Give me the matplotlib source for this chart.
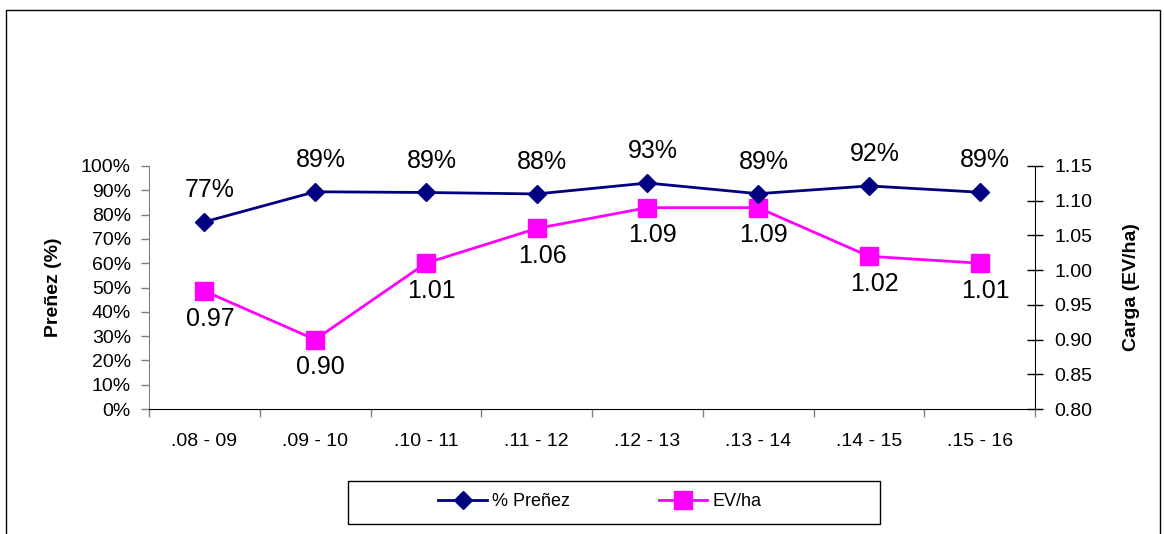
import matplotlib.pyplot as plt
from matplotlib.patches import Rectangle
from matplotlib.lines import Line2D

plt.rcParams['font.family'] = ['Liberation Sans', 'DejaVu Sans']

seasons = ['.08 - 09', '.09 - 10', '.10 - 11', '.11 - 12', '.12 - 13', '.13 - 14', '.14 - 15', '.15 - 16']
prenez = [0.77, 0.894, 0.891, 0.885, 0.93, 0.886, 0.918, 0.892]
prenez_lbl = ['77%', '89%', '89%', '88%', '93%', '89%', '92%', '89%']
ev_ha = [0.97, 0.90, 1.01, 1.06, 1.09, 1.09, 1.02, 1.01]
ev_lbl = ['0.97', '0.90', '1.01', '1.06', '1.09', '1.09', '1.02', '1.01']

navy = '#000080'
magenta = '#FF00FF'
W, H = 1164, 534

fig = plt.figure(figsize=(W / 100, H / 100), dpi=100)
# outer chart frame
fig.patches.append(Rectangle((6 / W, -0.05), 1154 / W, (H - 10) / H + 0.05,
                             transform=fig.transFigure, fill=False,
                             edgecolor='black', lw=1.0))

ax = fig.add_axes([149 / W, (H - 409) / H, (1035 - 149) / W, (409 - 166) / H])
ax2 = ax.twinx()
ax.set_zorder(ax2.get_zorder() + 1)
ax.patch.set_visible(False)

x = [i + 0.5 for i in range(len(seasons))]

ax.plot(x, prenez, color=navy, lw=2, marker='D', ms=9, zorder=3)
ax2.plot(x, ev_ha, color=magenta, lw=2, marker='s', ms=13, zorder=3)

for xi, v, t in zip(x, prenez, prenez_lbl):
    ax.annotate(t, (xi, v), xytext=(4, 23), textcoords='offset points',
                ha='center', va='center', fontsize=18)
for xi, v, t in zip(x, ev_ha, ev_lbl):
    ax2.annotate(t, (xi, v), xytext=(4, -20), textcoords='offset points',
                 ha='center', va='center', fontsize=18)

ax.set_xlim(0, len(seasons))
ax.set_ylim(0, 1.0)
ax.set_yticks([i / 10 for i in range(11)])
ax.set_yticklabels([f'{i * 10}%' for i in range(11)])
ax.set_xticks(range(len(seasons) + 1))
ax.set_xticklabels([])
ax.set_xticks(x, minor=True)
ax.set_xticklabels(seasons, minor=True)
ax.tick_params(axis='x', which='minor', length=0, pad=17, labelsize=14)
ax.tick_params(axis='x', which='major', length=6, color='#808080', width=1)
ax.tick_params(axis='y', length=6, color='#808080', width=1, pad=7, labelsize=14)

ax2.set_ylim(0.80, 1.15)
ax2.set_yticks([0.80 + 0.05 * i for i in range(8)])
ax2.set_yticklabels([f'{0.80 + 0.05 * i:.2f}' for i in range(8)])
ax2.tick_params(axis='y', direction='inout', length=12, width=1, pad=8, labelsize=14)

for a in (ax, ax2):
    a.spines['top'].set_visible(False)
ax.spines['right'].set_visible(False)
ax.spines['left'].set_color('#808080')
ax2.spines['left'].set_visible(False)
ax2.spines['bottom'].set_visible(False)

ax.set_ylabel('Preñez (%)', fontsize=14, fontweight='bold', labelpad=14)
ax2.set_ylabel('Carga (EV/ha)', fontsize=14, fontweight='bold', labelpad=22)

# legend box
fig.patches.append(Rectangle((348 / W, (H - 524) / H), 532 / W, 43 / H,
                             transform=fig.transFigure, fill=False,
                             edgecolor='black', lw=1.0))
handles = [Line2D([], [], color=navy, lw=2, marker='D', ms=9),
           Line2D([], [], color=magenta, lw=2, marker='s', ms=13)]
fig.legend(handles, ['% Preñez', 'EV/ha'], loc='center',
           bbox_to_anchor=(600 / W, (H - 502) / H), ncol=2,
           frameon=False, fontsize=13, handlelength=2.7,
           columnspacing=4.9, handletextpad=0.28)

fig.savefig('out.png', dpi=100)
